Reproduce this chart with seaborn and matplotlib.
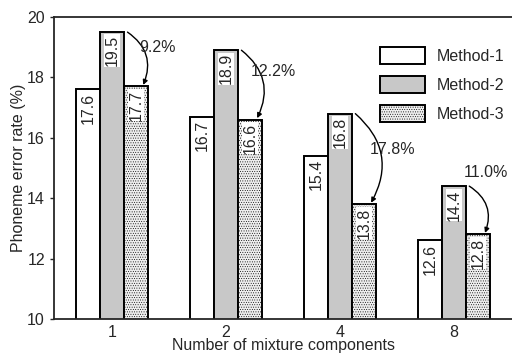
import pandas as pd
import matplotlib.pyplot as plt
import seaborn as sns
from matplotlib.patches import Patch

# ============ Data ============
components = ["1", "2", "4", "8"]
methods = ["Method-1", "Method-2", "Method-3"]
method1 = [17.6, 16.7, 15.4, 12.6]
method2 = [19.5, 18.9, 16.8, 14.4]
method3 = [17.7, 16.6, 13.8, 12.8]
reductions = ["9.2%", "12.2%", "17.8%", "11.0%"]

# ============ Style ============
sns.set_style("ticks")
plt.rcParams["font.family"] = ["Liberation Sans", "DejaVu Sans"]
plt.rcParams["hatch.linewidth"] = 0.35
FS = 11.5

df = pd.DataFrame({
    "components": components * 3,
    "method": [m for m in methods for _ in components],
    "rate": method1 + method2 + method3,
})

fig = plt.figure(figsize=(5.12, 3.55), dpi=100)
ax = fig.add_axes([0.1055, 0.1014, 0.8945, 0.8507])

sns.barplot(data=df, x="components", y="rate", hue="method", order=components,
            hue_order=methods, width=0.63, gap=0, legend=False, ax=ax,
            edgecolor="black", linewidth=1.4)

faces = ["white", "#c8c8c8", "#eeeeee"]
hatches = [None, None, "......."]
for cont, fc, h in zip(ax.containers, faces, hatches):
    for bar in cont:
        bar.set_facecolor(fc)
        bar.set_edgecolor("black")
        if h:
            bar.set_hatch(h)

# value labels inside the bars
for cont in ax.containers:
    for bar in cont:
        xc = bar.get_x() + bar.get_width() / 2
        top = bar.get_height()
        ax.text(xc, top - 0.1, f"{top:.1f}", rotation=90, ha="center", va="top",
                fontsize=FS, bbox=dict(facecolor="white", edgecolor="none", pad=0.5))

# reduction arrows from Method-2 to Method-3
label_offsets = [(0.1, -0.5), (0.08, -0.7), (0.13, -1.2), (-0.05, 0.45)]
for b2, b3, txt, (dx, dy) in zip(ax.containers[1], ax.containers[2], reductions, label_offsets):
    x0 = b2.get_x() + b2.get_width() + 0.03
    y0 = b2.get_height()
    x1 = b3.get_x() + b3.get_width() * 0.8
    y1 = b3.get_height() + 0.05
    ax.annotate("", xy=(x1, y1), xytext=(x0, y0),
                arrowprops=dict(arrowstyle="-|>", color="black", lw=1.0,
                                mutation_scale=7, shrinkA=0, shrinkB=0,
                                connectionstyle="arc3,rad=-0.4"))
    ax.text(x0 + dx, y0 + dy, txt, ha="left", va="center", fontsize=FS)

# legend
handles = [Patch(facecolor=fc, edgecolor="black", hatch=h, linewidth=1.4)
           for fc, h in zip(faces, hatches)]
ax.legend(handles, methods, loc="upper left", bbox_to_anchor=(0.712, 0.9),
          frameon=False, fontsize=FS, handlelength=2.8, handleheight=1.25,
          labelspacing=0.75, handletextpad=0.75, borderpad=0, borderaxespad=0)

ax.set_ylim(10, 20)
ax.set_xlim(-0.51, 3.51)
ax.set_yticks([10, 12, 14, 16, 18, 20])
ax.set_xlabel("Number of mixture components", fontsize=FS, labelpad=-1)
ax.set_ylabel("Phoneme error rate (%)", fontsize=FS, labelpad=1)
ax.tick_params(axis="both", labelsize=FS, length=3, width=1)
ax.tick_params(axis="x", length=0, pad=4)
for s in ["left", "bottom", "top"]:
    ax.spines[s].set_linewidth(1.3)
    ax.spines[s].set_visible(True)
ax.spines["right"].set_visible(False)

fig.savefig("out.png", dpi=100)
